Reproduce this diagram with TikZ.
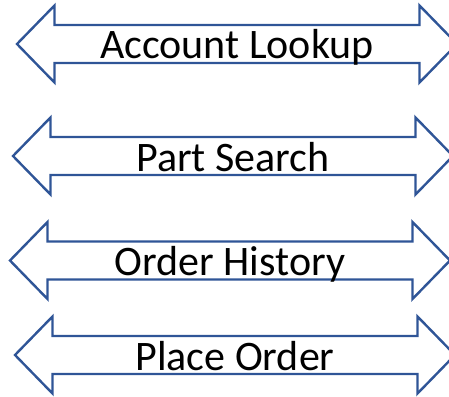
\documentclass[tikz,border=0pt]{standalone}
\usepackage{fontspec}
\setmainfont{Carlito}
\usepackage{tikz}
\usetikzlibrary{positioning}
\definecolor{arrowblue}{HTML}{2F5597}
\tikzset{
    arrowbody/.style={draw=arrowblue,line width=2.4pt,line join=miter},
    arrowtext/.style={font=\fontsize{42}{42}\selectfont,text height=30pt,text depth=0pt,inner sep=0pt}
}

\begin{document}
\begin{tikzpicture}[x=1pt,y=-1pt]
    \useasboundingbox (0,0) rectangle (449,396);

    % double arrows, left tip at (x,y)
    \foreach \name/\x/\y/\txt in {lookup/17/44/Account Lookup,
                                 search/13/156/Part Search,
                                 history/10/260.5/Order History,
                                 order/15/355/Place Order}{
        \draw[arrowbody] (\x,\y) -- ++(37.5,-38.5) -- ++(0,19.5) -- ++(365,0)
            -- ++(0,-19.5) -- ++(37.5,38.5) -- ++(-37.5,38.5) -- ++(0,-19.5)
            -- ++(-365,0) -- ++(0,19.5) -- cycle;
        \node[arrowtext] (\name) at (\x+220,\y) {\txt};
    }
\end{tikzpicture}
\end{document}
